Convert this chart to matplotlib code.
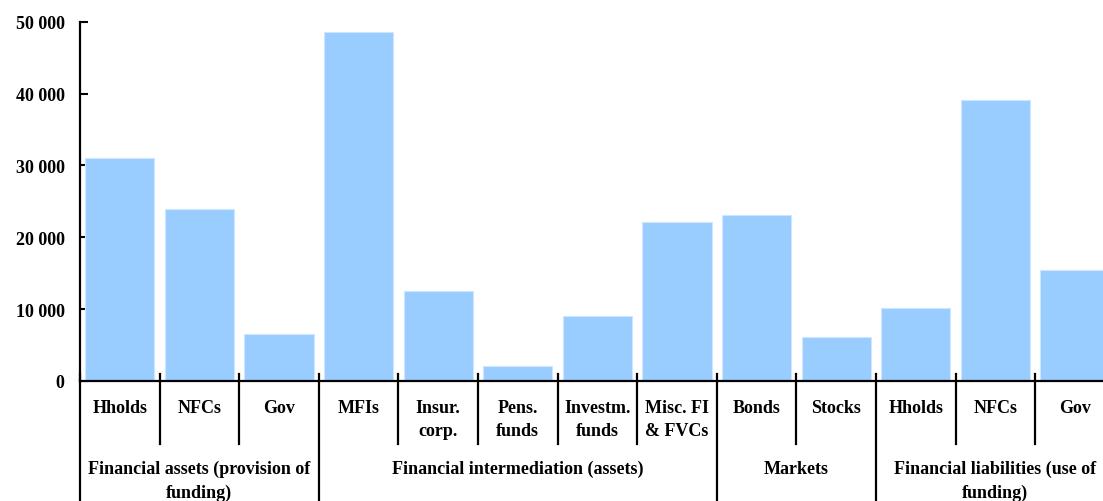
import matplotlib
matplotlib.use("Agg")
import matplotlib.pyplot as plt
import matplotlib.transforms as mtransforms
from matplotlib.lines import Line2D

categories = ["Hholds", "NFCs", "Gov", "MFIs", "Insur.\ncorp.", "Pens.\nfunds",
              "Investm.\nfunds", "Misc. FI\n& FVCs", "Bonds", "Stocks",
              "Hholds", "NFCs", "Gov"]
values = [31080, 23890, 6530, 48610, 12540, 2130, 8990, 22080, 23060, 6060,
          10090, 39120, 15510]
groups = ["Financial assets (provision of\nfunding)",
          "Financial intermediation (assets)",
          "Markets",
          "Financial liabilities (use of\nfunding)"]
group_sizes = [3, 5, 2, 3]
yticks = [0, 10000, 20000, 30000, 40000, 50000]

plt.rcParams['font.family'] = ['Liberation Serif', 'DejaVu Serif']
FS = 13
FW = "bold"

W, H = 1103, 502
fig = plt.figure(figsize=(W / 100, H / 100), dpi=100)
ax = fig.add_axes([80 / W, 120 / H, 1034.8 / W, 359.3 / H])

x = list(range(len(categories)))
ax.bar(x, values, width=0.87, color="#99CCFF", edgecolor="#CFE6FF", linewidth=0.8, zorder=2)

ax.set_xlim(-0.5, len(categories) - 0.5)
ax.set_ylim(0, 50000)
ax.set_yticks(yticks)
ax.set_yticklabels([f"{v:,}".replace(",", " ") for v in yticks], fontsize=FS, fontweight=FW)
ax.tick_params(axis="y", direction="in", length=6, width=1.5, pad=11)
ax.set_xticks([])

for s in ["top", "right"]:
    ax.spines[s].set_visible(False)
for s in ["left", "bottom"]:
    ax.spines[s].set_linewidth(1.6)
    ax.spines[s].set_color("black")

trans = mtransforms.blended_transform_factory(ax.transData, ax.transAxes)
ftrans = mtransforms.blended_transform_factory(ax.transData, fig.transFigure)

bounds = [-0.5]
for g in group_sizes:
    bounds.append(bounds[-1] + g)

for i in range(1, len(categories)):
    b = i - 0.5
    if b in bounds:
        continue
    ax.add_line(Line2D([b, b], [0.02, -0.175], transform=trans, color="black",
                       linewidth=1.6, clip_on=False))
for b in bounds:
    ax.add_line(Line2D([b, b], [0.02, -0.5], transform=trans, color="black",
                       linewidth=1.6, clip_on=False))

for xi, lab in zip(x, categories):
    ax.text(xi, 1 - 400 / H, lab, transform=ftrans, ha="center", va="top",
            fontsize=FS, fontweight=FW, linespacing=1.45)

for gi, g in enumerate(groups):
    c = (bounds[gi] + bounds[gi + 1]) / 2
    ax.text(c, 1 - 461 / H, g, transform=ftrans, ha="center", va="top",
            fontsize=FS, fontweight=FW, linespacing=1.45)

fig.savefig("out.png", dpi=100)
